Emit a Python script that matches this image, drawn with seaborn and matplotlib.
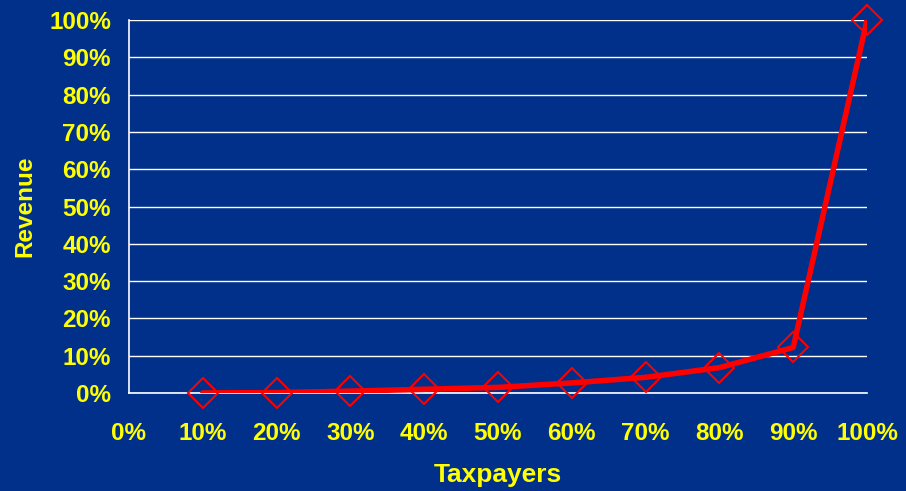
import matplotlib
matplotlib.use("Agg")
import matplotlib.pyplot as plt
import seaborn as sns
import pandas as pd
from matplotlib.ticker import FuncFormatter, MultipleLocator

# Cumulative share of revenue by cumulative share of taxpayers
taxpayers = [10, 20, 30, 40, 50, 60, 70, 80, 90, 100]
revenue = [0.0, 0.1, 0.5, 1.0, 1.5, 2.7, 4.2, 6.8, 12.2, 100.0]

df = pd.DataFrame({"Taxpayers": taxpayers, "Revenue": revenue})

bg = "#00308A"
yellow = "#FFFF00"

sns.set_theme(style="white")
plt.rcParams["font.family"] = ["Liberation Sans", "DejaVu Sans"]

fig = plt.figure(figsize=(9.06, 4.91), dpi=100, facecolor=bg)
ax = fig.add_axes([129 / 906, 1 - 393 / 491, (867 - 129) / 906, (393 - 20) / 491])
ax.set_facecolor(bg)

sns.lineplot(data=df, x="Taxpayers", y="Revenue", ax=ax, color="#FF0000",
             linewidth=4.0, zorder=3)
ax.plot(df["Taxpayers"], df["Revenue"], linestyle="none", marker="D",
        markersize=15, markerfacecolor="none", markeredgecolor="#FF0000",
        markeredgewidth=1.5, zorder=4, clip_on=False)

ax.set_xlim(0, 100)
ax.set_ylim(0, 100)
ax.xaxis.set_major_locator(MultipleLocator(10))
ax.yaxis.set_major_locator(MultipleLocator(10))
pct = FuncFormatter(lambda v, p: f"{v:.0f}%")
ax.xaxis.set_major_formatter(pct)
ax.yaxis.set_major_formatter(pct)

ax.grid(axis="y", color="white", linewidth=1.0)
ax.grid(axis="x", visible=False)

for side in ["top", "right"]:
    ax.spines[side].set_visible(False)
for side in ["left", "bottom"]:
    ax.spines[side].set_color("white")
    ax.spines[side].set_linewidth(1.2)

ax.tick_params(axis="x", colors=yellow, direction="out", length=6, width=1,
               color="white", pad=15, labelsize=17.5)
ax.tick_params(axis="y", colors=yellow, direction="out", length=6, width=1,
               color="white", pad=7, labelsize=17.5)
for lbl in ax.get_xticklabels() + ax.get_yticklabels():
    lbl.set_fontweight("bold")
    lbl.set_color(yellow)

ax.set_xlabel("Taxpayers", color=yellow, fontsize=19, fontweight="bold", labelpad=13)
ax.set_ylabel("Revenue", color=yellow, fontsize=17.5, fontweight="bold", labelpad=9)

fig.savefig("out.png", dpi=100, facecolor=bg)
